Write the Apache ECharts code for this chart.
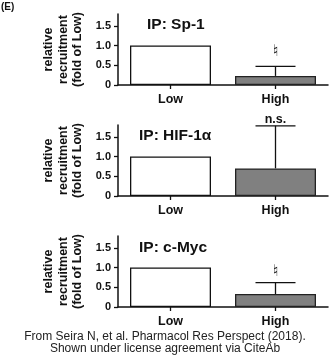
<!DOCTYPE html>
<html><head><meta charset="utf-8">
<script src="https://cdn.jsdelivr.net/npm/echarts@6/dist/echarts.min.js"></script>
<style>html,body{margin:0;padding:0;background:#fff}#c{width:330px;height:361px}</style>
</head><body><div id="c"></div>
<script>
const categories = ['Low', 'High'];
const panelTitles = ['IP: Sp-1', 'IP: HIF-1α', 'IP: c-Myc'];
const lowValues = [1.0, 1.0, 1.0];
const highValues = [0.23, 0.70, 0.33];
const highErrorTops = [0.47, 1.78, 0.62];
const sigLabels = ['♮', 'n.s.', '♮'];
const sigLabelValues = [0.84, 1.93, 0.90];
const yTickValues = [0, 0.5, 1.0, 1.5];
const yAxisNameLines = ['relative', 'recruitment', '(fold of Low)'];
const footerLines = ['From Seira N, et al. Pharmacol Res Perspect (2018).', 'Shown under license agreement via CiteAb'];

const FONT = 'Liberation Sans, Arial, sans-serif';
const gridTops = [14, 125, 236];
const titleTops = [17, 128, 240];
const titleLefts = [147, 139, 139];

const grids = [], xAxes = [], yAxes = [], series = [], titles = [];
panelTitles.forEach((t, i) => {
  grids.push({ left: 118, right: 2, top: gridTops[i], height: 71 });
  xAxes.push({
    type: 'category', gridIndex: i, data: categories,
    axisLine: { show: true, lineStyle: { color: '#111', width: 1.5 } },
    axisTick: { show: true, alignWithLabel: true, length: 4, lineStyle: { color: '#111', width: 1.3 } },
    axisLabel: { color: '#111', fontFamily: FONT, fontWeight: 'bold', fontSize: 12.5, margin: 8 },
    splitLine: { show: false }
  });
  yAxes.push({
    type: 'value', gridIndex: i, min: 0, max: 1.8, interval: 0.5,
    name: yAxisNameLines.join('\n'), nameLocation: 'middle', nameGap: 30,
    nameTextStyle: { color: '#111', fontFamily: FONT, fontWeight: 'bold', fontSize: 12.5, lineHeight: 14.5, align: 'center' },
    axisLine: { show: true, lineStyle: { color: '#111', width: 1.5 } },
    axisTick: { show: true, length: 4, customValues: yTickValues, lineStyle: { color: '#111', width: 1.3 } },
    axisLabel: { color: '#111', fontFamily: FONT, fontWeight: 'bold', fontSize: 11, margin: 7,
      customValues: yTickValues,
      formatter: v => v === 0 ? '0' : v.toFixed(1) },
    splitLine: { show: false }
  });
  series.push({
    type: 'bar', xAxisIndex: i, yAxisIndex: i, barWidth: 81, silent: true,
    data: [
      { value: lowValues[i], itemStyle: { color: '#fff', borderColor: '#111', borderWidth: 1.3 } },
      { value: highValues[i], itemStyle: { color: '#808080', borderColor: '#222', borderWidth: 1.3 } }
    ]
  });
  series.push({
    type: 'custom', xAxisIndex: i, yAxisIndex: i, silent: true, clip: false,
    data: [[1, highValues[i], highErrorTops[i], sigLabelValues[i]]],
    renderItem: (params, api) => {
      const b = api.coord([api.value(0), api.value(1)]);
      const t = api.coord([api.value(0), api.value(2)]);
      const s = api.coord([api.value(0), api.value(3)]);
      const isNs = sigLabels[i] === 'n.s.';
      return { type: 'group', children: [
        { type: 'line', shape: { x1: b[0], y1: b[1], x2: t[0], y2: t[1] }, style: { stroke: '#111', lineWidth: 1.3 } },
        { type: 'line', shape: { x1: t[0] - 20, y1: t[1], x2: t[0] + 20, y2: t[1] }, style: { stroke: '#111', lineWidth: 1.3 } },
        { type: 'text', style: { text: sigLabels[i], x: s[0], y: s[1], align: 'center', verticalAlign: 'middle',
          fill: '#111', font: isNs ? ('bold 12.5px ' + FONT) : '16px DejaVu Sans, sans-serif' } }
      ] };
    }
  });
  titles.push({ text: t, left: titleLefts[i], top: titleTops[i], padding: 0,
    textStyle: { color: '#111', fontFamily: FONT, fontWeight: 'bold', fontSize: 15.5 } });
});
titles.push({ text: footerLines.join('\n'), left: 165, top: 331, padding: 0, textAlign: 'center',
  textStyle: { color: '#222', fontFamily: FONT, fontWeight: 'normal', fontSize: 12, lineHeight: 12, align: 'center' } });
titles.push({ text: '(E)', left: 1, top: 2, padding: 0,
  textStyle: { color: '#111', fontFamily: FONT, fontWeight: 'bold', fontSize: 10 } });

const chart = echarts.init(document.getElementById('c'), null, { renderer: 'canvas' });
chart.setOption({ animation: false, backgroundColor: '#fff', title: titles, grid: grids, xAxis: xAxes, yAxis: yAxes, series: series });
</script></body></html>
